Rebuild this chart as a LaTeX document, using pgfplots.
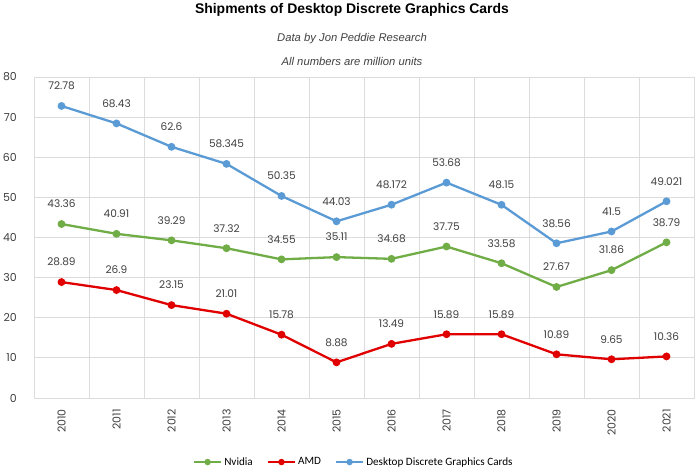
\documentclass[border=0pt]{standalone}
\usepackage{fontspec}
\setmainfont{Liberation Sans}
\newfontfamily\pop{Poppins}
\newfontfamily\carl{Carlito}
\usepackage{pgfplots}
\pgfplotsset{compat=1.18}
\definecolor{cgreen}{HTML}{70AD47}
\definecolor{cred}{HTML}{E00000}
\definecolor{cblue}{HTML}{5B9BD5}
\definecolor{gridgray}{HTML}{DCDCDC}
\definecolor{txt}{HTML}{404040}
\pgfplotstableread{
x nv amd tot
0 43.36 28.89 72.78
1 40.91 26.9 68.43
2 39.29 23.15 62.6
3 37.32 21.01 58.345
4 34.55 15.78 50.35
5 35.11 8.88 44.03
6 34.68 13.49 48.172
7 37.75 15.89 53.68
8 33.58 15.89 48.15
9 27.67 10.89 38.56
10 31.86 9.65 41.5
11 38.79 10.36 49.021
}\data
\begin{document}
\begin{tikzpicture}[x=1bp,y=1bp]
\path[use as bounding box] (0,0) rectangle (700,469);
\node[anchor=base, font=\bfseries\fontsize{14}{14}\selectfont] at (352,455.7) {Shipments of Desktop Discrete Graphics Cards};
\node[anchor=base, font=\itshape\fontsize{11.3}{11.3}\selectfont, text=txt] at (352,427.3) {Data by Jon Peddie Research};
\node[anchor=base, font=\itshape\fontsize{11.3}{11.3}\selectfont, text=txt] at (352,403) {All numbers are million units};
\begin{axis}[
  at={(34bp,71bp)}, anchor=south west,
  scale only axis, width=660bp, height=321bp,
  xmin=-0.5, xmax=11.5, ymin=0, ymax=80,
  xtick={0,1,2,3,4,5,6,7,8,9,10,11},
  xticklabels={2010,2011,2012,2013,2014,2015,2016,2017,2018,2019,2020,2021},
  minor xtick={-0.5,0.5,1.5,2.5,3.5,4.5,5.5,6.5,7.5,8.5,9.5,10.5,11.5},
  ytick={0,10,20,30,40,50,60,70,80},
  xminorgrids, ymajorgrids,
  grid style={draw=gridgray, line width=0.8bp},
  minor grid style={draw=gridgray, line width=0.8bp},
  axis line style={draw=gridgray, line width=0.8bp},
  major tick length=0pt, minor tick length=0pt,
  /pgf/number format/assume math mode=true,
  xticklabel style={yshift=-11bp, rotate=90, anchor=east, inner sep=0pt, font=\pop\fontsize{11}{11}\selectfont, text=txt},
  yticklabel style={anchor=east, inner sep=0pt, xshift=-17bp, font=\pop\fontsize{11}{11}\selectfont, text=txt},
  every node near coord/.append style={anchor=center, yshift=20bp, font=\pop\fontsize{10.6}{10.6}\selectfont, text=txt},
  legend style={at={(0.4845,-0.1996)}, anchor=center, draw=none, fill=none, legend columns=-1,
    font=\carl\fontsize{11.2}{13}\selectfont, inner sep=0pt,
    /tikz/every even column/.append style={column sep=12bp}},
  legend cell align=left,
  legend image code/.code={\draw[mark repeat=2,mark phase=2,mark size=2bp] plot coordinates {(0bp,0bp)(13.5bp,0bp)(27bp,0bp)};},
]
\addplot[cgreen, line width=2.3bp, mark=*, mark size=2.7bp, nodes near coords, point meta=explicit symbolic] table[x=x,y=nv,meta=nv]{\data};
\addlegendentry{Nvidia}
\addplot[cred, line width=2.3bp, mark=*, mark size=2.7bp, nodes near coords, point meta=explicit symbolic] table[x=x,y=amd,meta=amd]{\data};
\addlegendentry{AMD}
\addplot[cblue, line width=2.3bp, mark=*, mark size=2.7bp, nodes near coords, point meta=explicit symbolic] table[x=x,y=tot,meta=tot]{\data};
\addlegendentry{Desktop Discrete Graphics Cards}
\end{axis}
\end{tikzpicture}
\end{document}
